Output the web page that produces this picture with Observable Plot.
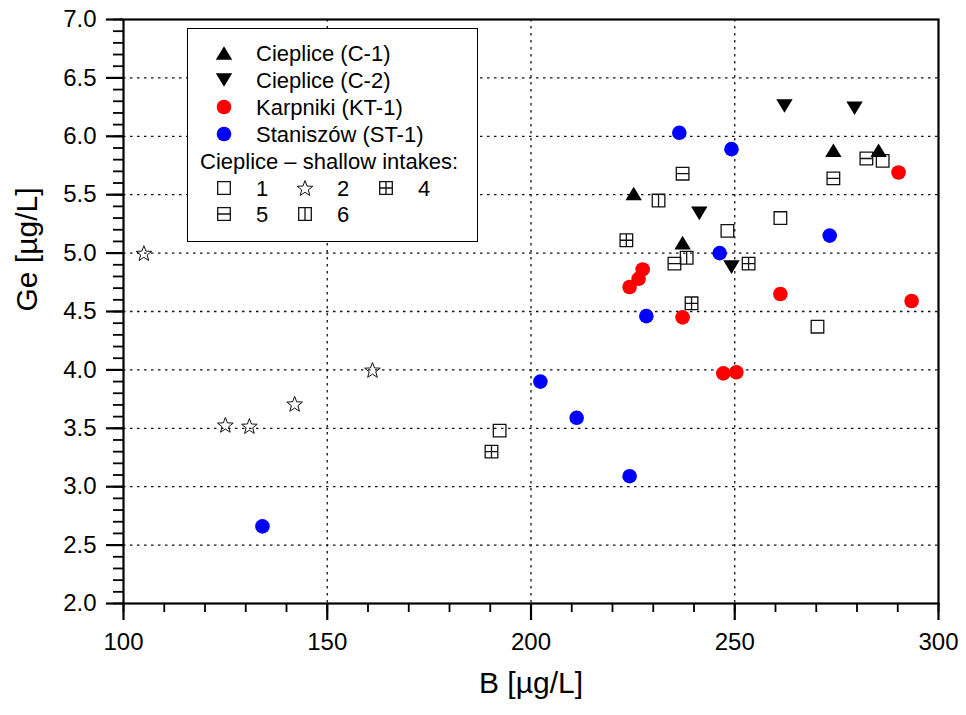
<!DOCTYPE html>
<html>
<head>
<meta charset="utf-8">
<script src="https://cdn.jsdelivr.net/npm/d3@7"></script>
<script src="https://cdn.jsdelivr.net/npm/@observablehq/plot@0.6"></script>
<style>
  html, body { margin: 0; padding: 0; background: #fff; }
  #wrap { position: relative; width: 966px; height: 715px; background: #fff; font-family: Arial, "Liberation Sans", sans-serif; }
  #legend { position: absolute; left: 187px; top: 28px; width: 289px; height: 212px; border: 1.6px solid #000; background: #fff; }
  #legend svg { position: absolute; left: 0; top: 0; }
</style>
</head>
<body>
<div id="wrap"><div id="chart"></div><div id="legend"></div></div>
<script>
// ---------- data (B [µg/L], Ge [µg/L]) ----------
const c1B  = [225.2, 237.2, 274.2, 285.3];
const c1Ge = [5.51, 5.09, 5.88, 5.88];

const c2B  = [262.2, 279.4, 241.3, 249.2];
const c2Ge = [6.26, 6.24, 5.34, 4.88];

const ktB  = [290.2, 227.4, 226.4, 224.2, 261.2, 293.4, 237.2, 247.2, 250.4];
const ktGe = [5.69, 4.86, 4.78, 4.71, 4.65, 4.59, 4.45, 3.97, 3.98];

const stB  = [236.4, 249.2, 273.3, 246.3, 228.3, 202.3, 211.2, 224.2, 134.1];
const stGe = [6.03, 5.89, 5.15, 5.00, 4.46, 3.90, 3.59, 3.09, 2.66];

const s1B  = [286.3, 261.2, 248.2, 270.3, 192.3];
const s1Ge = [5.79, 5.30, 5.19, 4.37, 3.48];

const s2B  = [105.0, 161.1, 142.0, 125.0, 130.9];
const s2Ge = [5.00, 4.00, 3.71, 3.53, 3.52];

const s4B  = [223.4, 253.4, 239.4, 190.3];
const s4Ge = [5.11, 4.91, 4.57, 3.30];

const s5B  = [282.3, 274.2, 237.2, 235.2];
const s5Ge = [5.81, 5.64, 5.68, 4.91];

const s6B  = [231.3, 238.2];
const s6Ge = [5.45, 4.96];

const xMajor = [100, 150, 200, 250, 300];
const xMinor = d3.range(100, 301, 10);
const yMajor = [2.0, 2.5, 3.0, 3.5, 4.0, 4.5, 5.0, 5.5, 6.0, 6.5, 7.0];
const yMinor = d3.range(20, 71, 1).map(v => v / 10);
const xGrid = [150, 200, 250];
const yGrid = [2.5, 3.0, 3.5, 4.0, 4.5, 5.0, 5.5, 6.0, 6.5];

const legendMain = ["Cieplice (C-1)", "Cieplice (C-2)", "Karpniki (KT-1)", "Staniszów (ST-1)"];
const legendSub = "Cieplice \u2013 shallow intakes:";
const legendShallow = ["1", "2", "4", "5", "6"];

const rows = (B, G) => B.map((b, i) => ({B: b, Ge: G[i]}));

// ---------- custom symbols (size = π r²) ----------
const R = size => Math.sqrt(size / Math.PI);
const triUp = {draw(c, size) { const r = R(size), h = r * 0.83; c.moveTo(0, -h); c.lineTo(r, h); c.lineTo(-r, h); c.closePath(); }};
const triDown = {draw(c, size) { const r = R(size), h = r * 0.83; c.moveTo(0, h); c.lineTo(r, -h); c.lineTo(-r, -h); c.closePath(); }};
const sq = {draw(c, size) { const r = R(size); c.moveTo(-r, -r); c.lineTo(r, -r); c.lineTo(r, r); c.lineTo(-r, r); c.closePath(); }};
const sqPlus = {draw(c, size) { const r = R(size); sq.draw(c, size); c.moveTo(-r, 0); c.lineTo(r, 0); c.moveTo(0, -r); c.lineTo(0, r); }};
const sqH = {draw(c, size) { const r = R(size); sq.draw(c, size); c.moveTo(-r, 0); c.lineTo(r, 0); }};
const sqV = {draw(c, size) { const r = R(size); sq.draw(c, size); c.moveTo(0, -r); c.lineTo(0, r); }};
const star = {draw(c, size) {
  const r = R(size), ri = r * 0.42;
  for (let i = 0; i < 10; i++) {
    const a = -Math.PI / 2 + i * Math.PI / 5, rr = i % 2 ? ri : r;
    const x = rr * Math.cos(a), y = rr * Math.sin(a) + r * 0.1;
    i ? c.lineTo(x, y) : c.moveTo(x, y);
  }
  c.closePath();
}};

const openStyle = {stroke: "#111", strokeWidth: 1.3, fill: "none"};

const plot = Plot.plot({
  width: 966,
  height: 715,
  marginLeft: 123,
  marginRight: 28,
  marginTop: 19,
  marginBottom: 112,
  style: {fontFamily: "Arial, 'Liberation Sans', sans-serif", fontSize: "24px", background: "white", color: "black"},
  x: {domain: [100, 300], label: null},
  y: {domain: [2, 7], label: null},
  marks: [
    Plot.gridX(xGrid, {stroke: "#111", strokeOpacity: 1, strokeWidth: 1.3, strokeDasharray: "2.5,4.5"}),
    Plot.gridY(yGrid, {stroke: "#111", strokeOpacity: 1, strokeWidth: 1.3, strokeDasharray: "2.5,4.5"}),
    Plot.axisX(xMinor, {tickSize: 9, strokeWidth: 1.8, fill: "none", tickFormat: () => "", label: null}),
    Plot.axisX(xMajor, {tickSize: 17, tickPadding: 12, strokeWidth: 2.2, label: null, tickFormat: d3.format("d")}),
    Plot.axisY(yMinor, {tickSize: 10, strokeWidth: 1.8, fill: "none", tickFormat: () => "", label: null}),
    Plot.axisY(yMajor, {tickSize: 17, tickPadding: 10, strokeWidth: 2.2, label: null, tickFormat: d3.format(".1f")}),
    Plot.frame({stroke: "black", strokeWidth: 2.2}),
    Plot.dot(rows(s1B, s1Ge), {x: "B", y: "Ge", symbol: sq, r: 6.3, ...openStyle}),
    Plot.dot(rows(s2B, s2Ge), {x: "B", y: "Ge", symbol: star, r: 8.2, stroke: "#111", strokeWidth: 1, fill: "none"}),
    Plot.dot(rows(s4B, s4Ge), {x: "B", y: "Ge", symbol: sqPlus, r: 6.3, ...openStyle}),
    Plot.dot(rows(s5B, s5Ge), {x: "B", y: "Ge", symbol: sqH, r: 6.3, ...openStyle}),
    Plot.dot(rows(s6B, s6Ge), {x: "B", y: "Ge", symbol: sqV, r: 6.3, ...openStyle}),
    Plot.dot(rows(stB, stGe), {x: "B", y: "Ge", r: 7.3, fill: "#0000ff", stroke: "none"}),
    Plot.dot(rows(ktB, ktGe), {x: "B", y: "Ge", r: 7.3, fill: "#ff0000", stroke: "none"}),
    Plot.dot(rows(c2B, c2Ge), {x: "B", y: "Ge", symbol: triDown, r: 8.2, fill: "black", stroke: "none"}),
    Plot.dot(rows(c1B, c1Ge), {x: "B", y: "Ge", symbol: triUp, r: 8.2, fill: "black", stroke: "none"}),
    Plot.text(["B [µg/L]"], {frameAnchor: "bottom", dy: 89, fontSize: 30}),
    Plot.text(["Ge [µg/L]"], {frameAnchor: "left", dx: -96, rotate: -90, fontSize: 30})
  ]
});
document.getElementById("chart").appendChild(plot);

// ---------- legend (inside frame, top-left) ----------
const lg = d3.select("#legend").append("svg").attr("width", 289).attr("height", 212)
  .style("font-family", "Arial, 'Liberation Sans', sans-serif").style("font-size", "22px");
const path = (sym, r) => d3.symbol(sym, Math.PI * r * r)();
const mainSyms = [
  {d: path(triUp, 8.2), fill: "black"},
  {d: path(triDown, 8.2), fill: "black"},
  {d: path(d3.symbolCircle, 7.3), fill: "#ff0000"},
  {d: path(d3.symbolCircle, 7.3), fill: "#0000ff"}
];
mainSyms.forEach((s, i) => {
  const y = 24 + i * 27;
  lg.append("path").attr("d", s.d).attr("fill", s.fill).attr("transform", `translate(36,${y})`);
  lg.append("text").attr("x", 68).attr("y", y).attr("dy", "0.36em").text(legendMain[i]);
});
lg.append("text").attr("x", 12).attr("y", 132).attr("dy", "0.36em").text(legendSub);
const subSyms = [
  {sym: sq, r: 6.3, x: 36, y: 159, sw: 1.3},
  {sym: star, r: 8.2, x: 117, y: 159, sw: 1},
  {sym: sqPlus, r: 6.3, x: 198, y: 159, sw: 1.3},
  {sym: sqH, r: 6.3, x: 36, y: 185, sw: 1.3},
  {sym: sqV, r: 6.3, x: 117, y: 185, sw: 1.3}
];
subSyms.forEach((s, i) => {
  lg.append("path").attr("d", path(s.sym, s.r)).attr("fill", "none").attr("stroke", "#111")
    .attr("stroke-width", s.sw).attr("transform", `translate(${s.x},${s.y})`);
  lg.append("text").attr("x", s.x + 32).attr("y", s.y).attr("dy", "0.36em").text(legendShallow[i]);
});
</script>
</body>
</html>
